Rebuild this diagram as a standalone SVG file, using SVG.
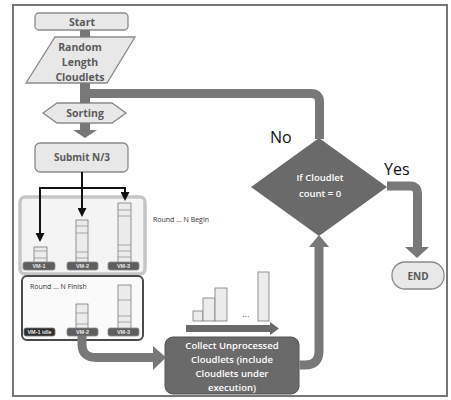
<svg xmlns="http://www.w3.org/2000/svg" width="451" height="400" viewBox="0 0 451 400">
<style>
.light{fill:#e8e8e8;stroke:#8a8a8a;stroke-width:1.3}
.lt{font-family:"Open Sans","Liberation Sans",sans-serif;font-weight:700;fill:#5a5a5a;text-anchor:middle}
.wt{font-family:"Open Sans","Liberation Sans",sans-serif;font-weight:600;fill:#ffffff;text-anchor:middle}
.pipe{fill:none;stroke:#787878;stroke-width:9}
.thin{fill:none;stroke:#111;stroke-width:2}
.vm{fill:#5e5e5e;stroke:#8a8a8a;stroke-width:0.8}
.vmt{font-family:"Liberation Sans",sans-serif;font-size:5.5px;font-weight:700;fill:#e8e8e8;text-anchor:middle}
.stack{fill:#ececec;stroke:#7a7a7a;stroke-width:0.8}
.div{stroke:#8a8a8a;stroke-width:0.7}
.big{font-family:"Open Sans","Liberation Sans",sans-serif;font-size:16px;fill:#111}
.small{font-family:"Open Sans","Liberation Sans",sans-serif;font-size:7px;fill:#333}
</style>
<defs>
<marker id="ah" markerWidth="9" markerHeight="9" refX="5" refY="4.5" orient="auto" markerUnits="userSpaceOnUse">
<path d="M0,0 L9,4.5 L0,9 Z" fill="#111"/>
</marker>
</defs>
<rect x="13" y="5" width="434" height="391" fill="#ffffff" stroke="#777" stroke-width="2"/>

<g id="start">
<rect class="light" x="35" y="13" width="93" height="17" rx="4"/>
<text class="lt" x="82" y="25.5" font-size="10.5">Start</text>
</g>

<g id="random">
<polygon class="light" points="55,37 135,37 107,83 26,83"/>
<text class="lt" x="80" y="51" font-size="10.5">Random</text>
<text class="lt" x="80" y="66" font-size="10.5">Length</text>
<text class="lt" x="80" y="81" font-size="10.5">Cloudlets</text>
</g>

<g id="sorting">
<polygon class="light" points="43,113 57,103 112,103 126,113 112,123 57,123"/>
<text class="lt" x="85" y="117" font-size="10.5">Sorting</text>
</g>

<g id="submit">
<rect class="light" x="35" y="143" width="93" height="29" rx="5"/>
<text class="lt" x="82" y="161" font-size="10">Submit N/3</text>
</g>

<g id="round-begin">
<rect x="20" y="197" width="125" height="77" rx="5" fill="#f4f4f4" stroke="#c6c6c6" stroke-width="3.5"/>
<rect class="stack" x="34" y="247" width="13" height="16"/>
<line class="div" x1="34" y1="251" x2="47" y2="251"/>
<line class="div" x1="34" y1="258" x2="47" y2="258"/>
<rect class="stack" x="76" y="220" width="12" height="43"/>
<line class="div" x1="76" y1="226" x2="88" y2="226"/>
<line class="div" x1="76" y1="233" x2="88" y2="233"/>
<line class="div" x1="76" y1="252" x2="88" y2="252"/>
<line class="div" x1="76" y1="258" x2="88" y2="258"/>
<rect class="stack" x="118" y="203" width="13" height="60"/>
<line class="div" x1="118" y1="210" x2="131" y2="210"/>
<line class="div" x1="118" y1="216" x2="131" y2="216"/>
<line class="div" x1="118" y1="245" x2="131" y2="245"/>
<line class="div" x1="118" y1="251" x2="131" y2="251"/>
<line class="div" x1="118" y1="257" x2="131" y2="257"/>
<rect class="vm" x="23" y="262" width="32" height="8" rx="2"/>
<text class="vmt" x="39" y="268.3">VM-1</text>
<rect class="vm" x="67" y="262" width="31" height="8" rx="2"/>
<text class="vmt" x="82.5" y="268.3">VM-2</text>
<rect class="vm" x="108" y="262" width="31" height="8" rx="2"/>
<text class="vmt" x="123.5" y="268.3">VM-3</text>
<text class="small" x="153" y="222">Round ... N Begin</text>
</g>

<g id="round-finish">
<rect x="22" y="276" width="121" height="64" rx="5" fill="#fafafa" stroke="#4a4a4a" stroke-width="2"/>
<text class="small" x="30" y="289" font-size="7.5">Round ... N Finish</text>
<rect class="stack" x="76" y="304" width="12" height="25"/>
<line class="div" x1="76" y1="313" x2="88" y2="313"/>
<line class="div" x1="76" y1="324" x2="88" y2="324"/>
<rect class="stack" x="118" y="285" width="13" height="44"/>
<line class="div" x1="118" y1="300" x2="131" y2="300"/>
<line class="div" x1="118" y1="316" x2="131" y2="316"/>
<line class="div" x1="118" y1="322" x2="131" y2="322"/>
<rect x="24" y="328" width="31" height="8" rx="2" fill="#2e2e2e" stroke="#777" stroke-width="0.8"/>
<text class="vmt" x="39.5" y="333.8" font-size="3.5">VM-1 idle</text>
<rect class="vm" x="67" y="328" width="31" height="8" rx="2"/>
<text class="vmt" x="82.5" y="334.3">VM-2</text>
<rect class="vm" x="108" y="328" width="31" height="8" rx="2"/>
<text class="vmt" x="123.5" y="334.3">VM-3</text>
</g>

<g id="bars">
<rect class="stack" x="193" y="311" width="10" height="10"/>
<rect class="stack" x="203" y="298" width="12" height="23"/>
<rect class="stack" x="215" y="288" width="12" height="33"/>
<text x="242" y="317" font-family="Liberation Sans,sans-serif" font-size="9" fill="#555">...</text>
<rect class="stack" x="258" y="272" width="11" height="49"/>
<path d="M186 325 H270 V322 L279 328.5 L270 335 V332 H186 Z" fill="#6a6a6a"/>
</g>

<g id="collect">
<rect x="165" y="337" width="134" height="57" rx="8" fill="#6a6a6a" stroke="#555" stroke-width="1"/>
<text class="wt" x="232" y="349" font-size="9.5">Collect Unprocessed</text>
<text class="wt" x="232" y="363" font-size="9.5">Cloudlets (include</text>
<text class="wt" x="232" y="377" font-size="9.5">Cloudlets under</text>
<text class="wt" x="232" y="391" font-size="9.5">execution)</text>
</g>

<g id="decision">
<polygon points="319,138 387,187 319,236 251,187" fill="#6a6a6a"/>
<text class="wt" x="320" y="181" font-size="9.5">If Cloudlet</text>
<text class="wt" x="320" y="197" font-size="9.5">count = 0</text>
<text class="big" x="270" y="143">No</text>
<text class="big" x="384" y="175">Yes</text>
</g>

<g id="end">
<rect class="light" x="392" y="262" width="52" height="27" rx="13"/>
<text class="lt" x="418" y="279.5" font-size="10">END</text>
</g>

<g id="connectors">
<rect x="80" y="30" width="10" height="7" fill="#787878"/>
<rect x="80" y="83" width="10" height="20" fill="#787878"/>
<path class="pipe" d="M90 93.5 H311 Q319.5 93.5 319.5 102 V139"/>
<path d="M80 123 H90 V130 H97 L85 138 L73 130 H80 Z" fill="#787878"/>
<path class="thin" d="M82 172 V188"/>
<path class="thin" d="M40 188 H125"/>
<path class="thin" d="M40 187 V238" marker-end="url(#ah)"/>
<path class="thin" d="M82 187 V213" marker-end="url(#ah)"/>
<path class="thin" d="M125 187 V197" marker-end="url(#ah)"/>
<path class="pipe" d="M82 336 V344 Q82 357.5 96 357.5 H154"/>
<path d="M153 346 L166 357.5 L153 370 Z" fill="#787878"/>
<path class="pipe" d="M299.5 365 H305 Q319 365 319 351 V245"/>
<path d="M309 247 L319 235 L329 247 Z" fill="#787878"/>
<path class="pipe" d="M387 186 H410 Q417.5 186 417.5 194 V248"/>
<path d="M405 247 L429 247 L417 258 Z" fill="#787878"/>
</g>
</svg>
